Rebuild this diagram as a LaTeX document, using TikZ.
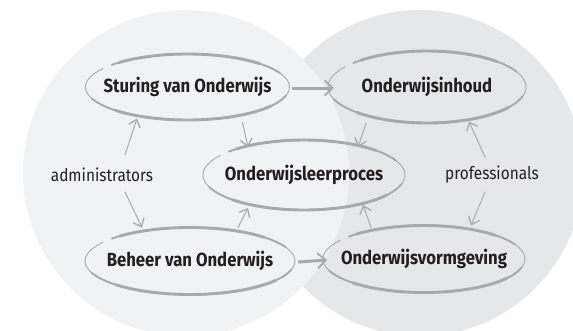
\documentclass[tikz,border=0pt]{standalone}
\usepackage{fontspec}
\setmainfont{Fira Sans}[FakeStretch=0.88]
\usetikzlibrary{arrows.meta,shapes.geometric}

\definecolor{ringL}{HTML}{F1F2F3}
\definecolor{ringR}{HTML}{E6E7E8}
\definecolor{pen}{HTML}{A7A9AC}
\definecolor{ink}{HTML}{231F20}

\tikzset{
  topic/.style={ellipse, inner sep=0pt, outer sep=0pt, text=ink,
    font=\bfseries\fontsize{19}{21}\selectfont},
  role/.style={inner sep=0pt, text=ink, font=\fontsize{17.5}{19}\selectfont},
  link/.style={draw=pen, line width=1pt, line cap=round,
    -{Straight Barb[length=7pt,width=12pt,line width=1.3pt]}},
  flow/.style={draw=pen, line width=3pt,
    -{Straight Barb[length=8pt,width=15pt,line width=1.8pt]}},
}

% hand-drawn open ring round a topic node: #1 node, #2 x radius, #3 y radius
\newcommand\sketchring[3]{%
  \draw[pen, line width=0.9pt, line cap=round]
    ([shift={(-138:#2 and #3)}]#1.center)
    arc[start angle=-138, end angle=214, x radius=#2, y radius=#3];
  \draw[pen, line width=1.9pt, line cap=round]
    ([shift={(-138:#2 and #3)}]#1.center)
    arc[start angle=-138, end angle=-25, x radius=#2, y radius=#3];
  \draw[pen, line width=2.9pt, line cap=round]
    ([shift={(-132:#2 and #3)}]#1.center)
    arc[start angle=-132, end angle=-45, x radius=#2, y radius=#3];
  \draw[pen, line width=1.9pt, line cap=round]
    ([shift={(15:#2 and #3)}]#1.center)
    arc[start angle=15, end angle=160, x radius=#2, y radius=#3];
  \draw[pen, line width=2.9pt, line cap=round]
    ([shift={(35:#2 and #3)}]#1.center)
    arc[start angle=35, end angle=135, x radius=#2, y radius=#3];
}

\begin{document}
\begin{tikzpicture}[x=1pt, y=-1pt]
\useasboundingbox (0,0) rectangle (573,330);

% the two overlapping domains
\begin{scope}
  \clip (0,0) rectangle (573,330);
  \fill[ringR] (420,173) circle[radius=163];
  \fill[ringL] (186,173) circle[radius=163];
\end{scope}

% topics
\node[topic, minimum width=204pt, minimum height=66pt] (S) at (187.5,87) {Sturing van Onderwijs};
\node[topic, minimum width=198pt, minimum height=72pt] (I) at (427,87) {Onderwijsinhoud};
\node[topic, minimum width=202pt, minimum height=70pt] (L) at (304,175) {Onderwijsleerproces};
\node[topic, minimum width=210pt, minimum height=67pt] (B) at (190,261) {Beheer van Onderwijs};
\node[topic, minimum width=202pt, minimum height=67pt] (V) at (424,259) {Onderwijsvormgeving};

% roles
\node[role] (A) at (102,175) {administrators};
\node[role] (P) at (492,175) {professionals};

% rings
\sketchring{S}{102}{33}
\sketchring{I}{99}{36}
\sketchring{L}{101}{35}
\sketchring{B}{105}{33.5}
\sketchring{V}{101}{33.5}

% main flows
\draw[flow] ([shift={(104.5,1)}]S.center) -- ([shift={(-93,1)}]I.center);
\draw[flow] ([shift={(108,1)}]B.center) -- ([shift={(-97,1)}]V.center);

% links into the learning process
\draw[link] ([shift={(55,35.5)}]S.center) -- ([shift={(-56,-28)}]L.center);
\draw[link] ([shift={(-61,36.5)}]I.center) -- ([shift={(54,-28)}]L.center);
\draw[link] ([shift={(48,-33.5)}]B.center) -- ([shift={(-56,33)}]L.center);
\draw[link] ([shift={(-53,-31.5)}]V.center) -- ([shift={(59,30)}]L.center);

% role links
\draw[link] ([shift={(23,-20)}]A.center) -- ([shift={(-50.5,31.5)}]S.center);
\draw[link] ([shift={(23,17)}]A.center) -- ([shift={(-48,-33.5)}]B.center);
\draw[link] ([shift={(-7,-18)}]P.center) -- ([shift={(42,34.5)}]I.center);
\draw[link] ([shift={(-7,17)}]P.center) -- ([shift={(47,-33.5)}]V.center);
\end{tikzpicture}
\end{document}
